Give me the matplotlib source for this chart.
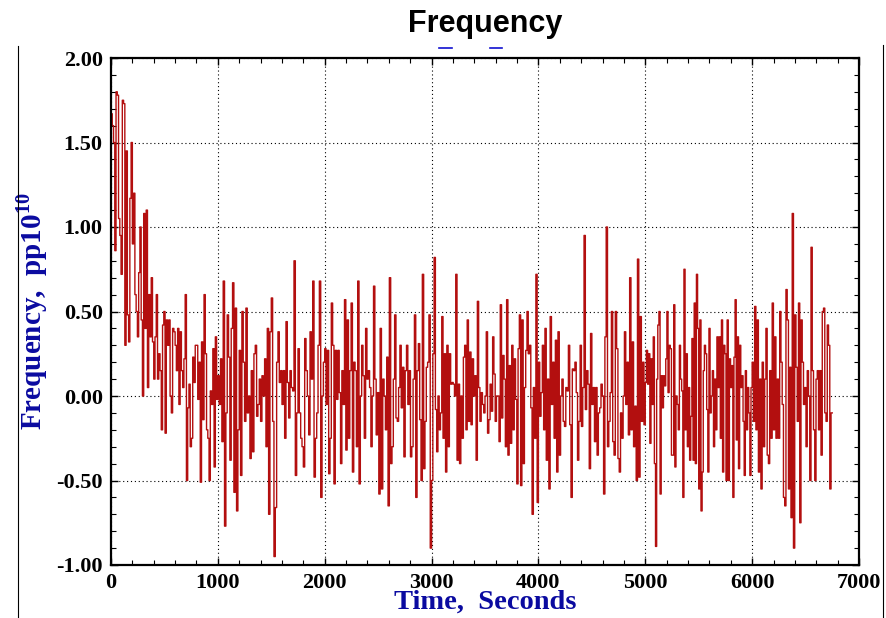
import numpy as np
import matplotlib
matplotlib.use('Agg')
import matplotlib.pyplot as plt
from matplotlib.lines import Line2D
from matplotlib.ticker import MultipleLocator, FormatStrFormatter

# ---- data ----
block_edges = [0, 1000, 2000, 3000, 4000, 5000, 6000, 6750]

freq_0000 = [1.67, 1.6, 1.5, 0.86, 1.8, 1.78, 1.05, 0.95, 0.72, 1.75, 1.73, 0.3, 1.45,
             0.48, 0.32, 1.17, 1.5, 0.9, 1.2, 0.6, 0.5, 0.35, 0.73, 1.0, 0.45, 0.0, 1.08,
             0.4, 1.1, 0.05, 0.6, 0.35, 0.7, 0.32, 0.1, 0.35, 0.6, 0.1, 0.25, 0.15, -0.2,
             0.42, 0.5, -0.22, 0.45, 0.3, 0.45, 0.0, -0.1, 0.4, 0.38, 0.3, 0.15, 0.4, -0.05,
             0.38, 0.15, 0.05, 0.22, 0.6, -0.5, -0.07, 0.07, -0.3, -0.25, 0.23, 0.08, 0.3,
             0.3, -0.02, 0.2, -0.51, 0.32, -0.14, 0.6, 0.25, -0.2, -0.25, -0.5, 0.03, -0.05,
             0.28, -0.42, 0.35, -0.02]
freq_1000 = [0.12, -0.05, 0.22, -0.27, 0.68, -0.77, -0.1, 0.48, 0.23, -0.38, 0.4, 0.67,
             -0.57, 0.52, -0.68, -0.2, 0.27, -0.47, 0.5, 0.2, -0.15, 0.52, -0.1, 0.0, -0.37,
             0.15, -0.33, 0.25, 0.3, -0.12, -0.05, 0.1, -0.15, 0.12, 0.0, 0.22, -0.3, 0.4,
             -0.7, 0.38, 0.58, -0.15, -0.95, -0.66, 0.2, 0.38, 0.08, 0.15, -0.05, 0.15, -0.25,
             0.44, 0.08, -0.13, 0.15, 0.05, 0.03, 0.8, -0.47, -0.1, 0.28, -0.1, -0.25, -0.3,
             -0.42, 0.34, 0.15, 0.0, -0.23, 0.38, 0.1, 0.68, -0.48, -0.25, -0.1, 0.3, 0.68,
             -0.6, 0.0, 0.2]
freq_2000 = [0.28, -0.05, 0.27, -0.46, -0.25, 0.55, 0.3, -0.52, 0.27, -0.02, 0.27, 0.02,
             -0.4, 0.15, -0.05, 0.57, -0.32, 0.45, -0.25, 0.15, 0.55, -0.45, 0.2, 0.15, -0.3,
             0.68, -0.52, 0.0, 0.3, 0.12, -0.25, 0.4, 0.1, 0.15, 0.05, -0.3, 0.0, 0.65, 0.1,
             -0.23, 0.02, -0.58, 0.4, -0.55, 0.1, 0.0, -0.2, 0.23, -0.65, 0.7, -0.4, -0.3, 0.1,
             0.48, -0.13, -0.15, 0.05, 0.3, -0.07, 0.17, -0.36, 0.15, 0.3, -0.05, 0.15, -0.36,
             -0.3, 0.1, 0.48, -0.6, 0.15, 0.31, -0.14, -0.5, 0.72, -0.43, -0.15, 0.17, 0.2,
             0.48, -0.9]
freq_3000 = [-0.5, 0.25, 0.82, -0.08, -0.33, 0.0, -0.2, -0.1, 0.47, -0.25, 0.25, -0.45,
             0.3, -0.3, 0.25, 0.07, 0.08, 0.07, 0.0, 0.72, -0.38, 0.07, -0.4, 0.0, -0.25, 0.23,
             0.3, -0.2, 0.45, -0.15, 0.26, -0.17, 0.22, 0.0, 0.12, -0.38, 0.56, 0.05, -0.15,
             0.02, -0.05, -0.1, 0.0, 0.38, -0.22, -0.14, 0.07, -0.09, 0.35, 0.13, -0.15, 0.0,
             0.0, -0.27, 0.54, -0.13, 0.24, 0.1, -0.3, 0.57, -0.35, 0.18, -0.28, 0.3, -0.2,
             0.22, -0.02, -0.52, 0.28, 0.48, -0.53, 0.45, -0.4, 0.05, 0.27, 0.5, 0.25, 0.3,
             -0.07, -0.7, 0.05, -0.25, 0.72, -0.63]
freq_4000 = [0.2, -0.12, 0.02, 0.3, -0.2, 0.4, -0.38, 0.1, -0.55, 0.47, -0.05, 0.2, -0.25,
             0.33, -0.45, 0.38, -0.35, 0.0, 0.1, -0.15, -0.18, 0.05, 0.03, 0.3, -0.17, -0.6,
             0.16, 0.15, 0.2, 0.02, -0.38, -0.15, 0.3, -0.18, 0.05, 0.95, -0.08, 0.15, 0.07,
             -0.43, 0.37, -0.05, 0.05, -0.27, 0.05, -0.35, -0.1, -0.07, 0.07, 0.0, -0.58, 0.35,
             1.0, -0.3, -0.15, 0.02, 0.5, -0.27, -0.35, 0.5, 0.28, -0.37, -0.45, -0.1, -0.25,
             0.0, 0.38, -0.05, 0.2, -0.23, 0.7, -0.2, 0.32, -0.3, -0.06, -0.5, 0.81, -0.48,
             0.47, -0.15, 0.2, -0.17]
freq_5000 = [0.08, 0.27, 0.07, 0.25, -0.28, 0.22, -0.05, 0.35, -0.4, -0.89, 0.1, 0.42, 0.5,
             -0.58, 0.12, -0.07, 0.12, 0.06, 0.22, 0.5, 0.02, 0.3, 0.28, -0.35, -0.35, 0.54,
             -0.42, 0.0, -0.05, -0.2, 0.3, 0.1, 0.03, -0.6, 0.75, -0.2, 0.25, -0.3, 0.05, -0.38,
             -0.12, 0.34, -0.38, 0.55, -0.4, 0.72, 0.4, -0.55, 0.45, -0.68, -0.45, 0.15, 0.3,
             0.25, -0.08, -0.45, 0.4, -0.1, 0.0, 0.15, -0.3, 0.1, -0.2, 0.35, 0.05, 0.35, -0.25,
             0.45, -0.45, 0.3, 0.25, -0.5, 0.45, -0.5, 0.22, 0.05, 0.18, -0.6, 0.23, 0.57, -0.26,
             0.35, -0.43, 0.3, 0.05, 0.12, -0.15, -0.47, 0.15, -0.2, 0.05, -0.1, -0.47, 0.05]
freq_6000 = [0.2, -0.15, 0.53, -0.2, 0.45, -0.45, 0.1, -0.55, 0.2, -0.3, 0.1, 0.4, -0.35,
             -0.4, 0.15, -0.25, 0.55, -0.2, 0.35, -0.25, 0.1, -0.25, 0.5, 0.2, -0.05, -0.6,
             -0.65, 0.63, 0.45, -0.55, 0.17, -0.72, 1.08, -0.9, 0.48, 0.17, -0.15, 0.55, -0.75,
             0.45, 0.2, -0.05, 0.05, -0.3, 0.15, 0.0, -0.5, 0.88, 0.15, -0.2, -0.5, 0.1, 0.15,
             -0.2, 0.15, -0.35, 0.5, 0.52, -0.1, -0.15, 0.42, 0.3, -0.55, -0.1]

blocks = [freq_0000, freq_1000, freq_2000, freq_3000, freq_4000, freq_5000, freq_6000]

x_ticks = [0, 1000, 2000, 3000, 4000, 5000, 6000, 7000]
y_ticks = [-1.0, -0.5, 0.0, 0.5, 1.0, 1.5, 2.0]

title_text = "Frequency"
x_label = "Time,  Seconds"
y_label = r"Frequency,  pp10$^{\mathbf{10}}$"

# ---- build time axis ----
t_parts, v_parts = [], []
for a, b, vals in zip(block_edges[:-1], block_edges[1:], blocks):
    n = len(vals)
    t_parts.append(a + (b - a) * np.arange(n) / n)
    v_parts.append(np.asarray(vals, dtype=float))
t = np.concatenate(t_parts + [np.array([block_edges[-1]])])
v = np.concatenate(v_parts + [v_parts[-1][-1:]])

plt.rcParams['axes.unicode_minus'] = False
plt.rcParams['mathtext.fontset'] = 'custom'
plt.rcParams['mathtext.rm'] = 'Liberation Serif'
plt.rcParams['mathtext.bf'] = 'Liberation Serif:bold'

fig = plt.figure(figsize=(8.86, 6.18), dpi=100)
ax = fig.add_axes([111/886, 1 - 565/618, 748/886, 507/618])

ax.step(t, v, where='post', color='#b30f0f', lw=1.0)

ax.set_xlim(0, 7000)
ax.set_ylim(-1.0, 2.0)
ax.set_xticks(x_ticks)
ax.set_yticks(y_ticks)
ax.xaxis.set_minor_locator(MultipleLocator(200))
ax.yaxis.set_minor_locator(MultipleLocator(0.1))
ax.yaxis.set_major_formatter(FormatStrFormatter('%.2f'))
ax.xaxis.set_major_formatter(FormatStrFormatter('%d'))

ax.grid(True, which='major', color='black', linestyle=(0, (1, 2.5)), linewidth=0.8)
ax.tick_params(which='both', direction='in', top=True, right=True, color='black')
ax.tick_params(which='major', length=5, width=1.0)
ax.tick_params(which='minor', length=3.5, width=0.8)
ax.tick_params(axis='x', pad=6)
ax.tick_params(axis='y', pad=6)
for sp in ax.spines.values():
    sp.set_linewidth(1.6)

for lab in ax.get_xticklabels() + ax.get_yticklabels():
    lab.set_fontfamily('Liberation Serif')
    lab.set_fontweight('bold')
    lab.set_fontsize(16)

label_color = '#0a0aa0'
ax.set_xlabel(x_label, family='Liberation Serif', weight='bold', size=20.5,
              color=label_color, labelpad=-2.5)
ax.set_ylabel(y_label, family='Liberation Serif', weight='bold', size=21,
              color=label_color)
ax.yaxis.set_label_coords(-0.081, 0.5)

fig.text(485/886, 1 - 32/618, title_text, family='Liberation Sans', weight='bold',
         size=22, ha='center', va='baseline', color='black')

# small blue marks under the title and side frame lines
fig.add_artist(Line2D([439/886, 452/886], [1 - 48/618, 1 - 48/618], color='#1010d0', lw=1.2))
fig.add_artist(Line2D([490/886, 502/886], [1 - 48/618, 1 - 48/618], color='#1010d0', lw=1.2))
fig.add_artist(Line2D([17.5/886, 17.5/886], [0, 1 - 46/618], color='black', lw=0.8))
fig.add_artist(Line2D([883/886, 883/886], [0, 1 - 45/618], color='black', lw=0.8))

fig.savefig('out.png', dpi=100)
